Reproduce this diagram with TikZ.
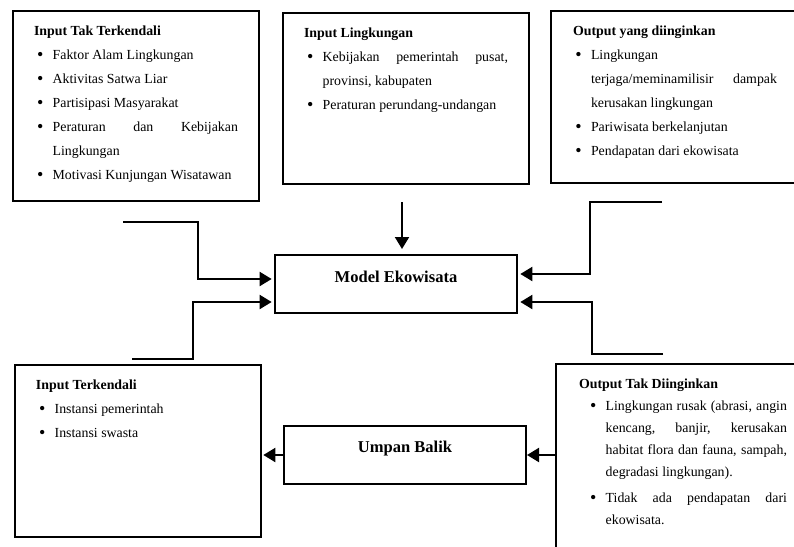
\documentclass[tikz,border=0pt]{standalone}
\usepackage{fontspec}
\setmainfont{Liberation Serif}
\usetikzlibrary{arrows.meta,calc,positioning}
\newcommand{\butir}[2][14pt]{\par\hangindent=#1\hangafter=0\noindent\llap{\raisebox{-1.2pt}{\fontsize{13.5pt}{0pt}\selectfont\textbullet}\hspace{7pt}}#2}
\newcommand{\isikotak}[3]{\begin{minipage}[t][#2][t]{#1}#3\end{minipage}}
\tikzset{
infobox/.style={draw,line width=1.5pt,anchor=north west,inner xsep=15.75pt,inner ysep=11pt,
font=\fontsize{10.4pt}{18pt}\selectfont},
mainbox/.style={draw,line width=1pt,minimum width=181.5pt,minimum height=43.5pt,
font=\bfseries\fontsize{12.4pt}{14pt}\selectfont,text height=9pt,text depth=#1},
mainbox/.default={10.9pt},
link/.style={line width=1.5pt,-{Triangle[length=9pt,width=10.5pt]},shorten >=2pt},
}
\begin{document}
\begin{tikzpicture}[x=0.75pt,y=-0.75pt]
\useasboundingbox (0,0) rectangle (794,547);
\clip (0,0) rectangle (794,547);
% kotak masukan dan keluaran
\node[infobox] (uncontrolled) at (12,10) {\isikotak{153pt}{120.5pt}{%
\textbf{Input Tak Terkendali}
\butir{Faktor Alam Lingkungan}
\butir{Aktivitas Satwa Liar}
\butir{Partisipasi Masyarakat}
\butir{Peraturan dan Kebijakan\linebreak Lingkungan}
\butir{Motivasi Kunjungan Wisatawan}}};
\node[infobox] (environment) at (282,12) {\isikotak{153pt}{106.25pt}{%
\textbf{Input Lingkungan}
\butir{Kebijakan pemerintah pusat,\linebreak provinsi, kabupaten}
\butir{Peraturan perundang-undangan}}};
\node[infobox,inner xsep=16.5pt] (desired) at (550,10) {\isikotak{153pt}{107pt}{%
\textbf{Output yang diinginkan}
\butir[13.5pt]{Lingkungan\newline terjaga/meminamilisir dampak\linebreak kerusakan lingkungan}
\butir[13.5pt]{Pariwisata berkelanjutan}
\butir[13.5pt]{Pendapatan dari ekowisata}}};
\node[infobox] (controlled) at (14,364) {\isikotak{153pt}{107pt}{%
\textbf{Input Terkendali}
\butir{Instansi pemerintah}
\butir{Instansi swasta}}};
\node[infobox,inner xsep=17.25pt,font=\fontsize{10.4pt}{16.5pt}\selectfont] (undesired) at (555,363) {\isikotak{156pt}{140pt}{%
\textbf{Output Tak Diinginkan}
\butir[20pt]{Lingkungan rusak (abrasi, angin\linebreak kencang, banjir, kerusakan\linebreak habitat flora dan fauna, sampah,\linebreak degradasi lingkungan).}
\par\vspace{3pt}
\butir[20pt]{Tidak ada pendapatan dari\linebreak ekowisata.}}};
% model dan umpan balik
\node[mainbox] (model) at (396,284) {Model Ekowisata};
\node[mainbox=12.4pt,line width=1.5pt] (feedback) at (405,455) {Umpan Balik};
% panah
\coordinate (uncontrolled-out) at (123,222);
\coordinate (controlled-out) at (132,359);
\coordinate (environment-out) at (402,202);
\coordinate (desired-in) at (662,202);
\coordinate (undesired-in) at (663,354);
\draw[link] (uncontrolled-out) -- ++(75,0) |- ($(model.west)+(0,-5)$);
\draw[link] (controlled-out) -- ++(61,0) |- ($(model.west)+(0,18)$);
\draw[link,shorten >=4pt] (environment-out) -- (environment-out |- model.north);
\draw[link] (desired-in) -- ++(-72,0) |- ($(model.east)+(0,-10)$);
\draw[link] (undesired-in) -- ++(-71,0) |- ($(model.east)+(0,18)$);
\draw[link,shorten >=0pt] (undesired.west |- feedback.east) -- (feedback.east);
\draw[link,shorten >=1pt] (feedback.west) -- (controlled.east |- feedback.west);
\end{tikzpicture}
\end{document}
